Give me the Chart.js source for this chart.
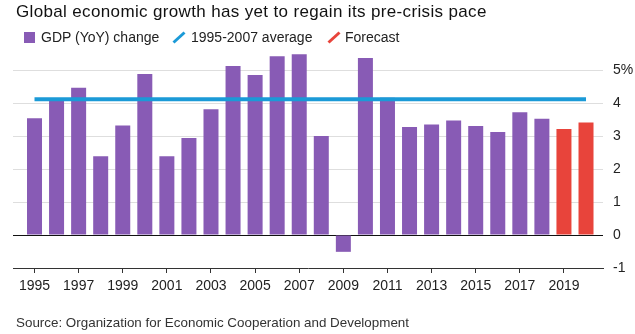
<!DOCTYPE html>
<html>
<head>
<meta charset="utf-8">
<script src="https://cdn.jsdelivr.net/npm/chart.js@4"></script>
<style>
  html, body { margin: 0; padding: 0; background: #fff; }
  body { width: 635px; height: 334px; position: relative; overflow: hidden;
         font-family: 'Liberation Sans', Arial, Helvetica, sans-serif; }
  #chart { position: absolute; left: 0; top: 0; }
  .txt { position: absolute; white-space: nowrap; line-height: 1; }
  #title { left: 16px; top: 3px; font-size: 17px; color: #111; letter-spacing: 0.35px; }
  .legend { top: 30px; font-size: 14px; color: #222; }
  #source { left: 16px; top: 316px; font-size: 13.4px; color: #333; }
  .swatch { position: absolute; left: 24px; top: 32px; width: 11px; height: 11px; }
  .slash { position: absolute; top: 31px; }
</style>
</head>
<body>
<canvas id="chart" width="635" height="334"></canvas>
<div id="title" class="txt">Global economic growth has yet to regain its pre-crisis pace</div>
<div class="swatch" id="swGdp"></div>
<div class="txt legend" style="left:41px">GDP (YoY) change</div>
<svg class="slash" style="left:172px" width="14" height="13"><line id="slAvg" x1="1.5" y1="11.5" x2="12.5" y2="1.5" stroke-width="3"/></svg>
<div class="txt legend" style="left:191px">1995-2007 average</div>
<svg class="slash" style="left:327px" width="14" height="13"><line id="slFc" x1="1.5" y1="11.5" x2="12.5" y2="1.5" stroke-width="3"/></svg>
<div class="txt legend" style="left:345px">Forecast</div>
<div id="source" class="txt">Source: Organization for Economic Cooperation and Development</div>

<script>
// Annual world GDP growth, % year over year
const years = [1995, 1996, 1997, 1998, 1999, 2000, 2001, 2002, 2003, 2004, 2005, 2006, 2007,
               2008, 2009, 2010, 2011, 2012, 2013, 2014, 2015, 2016, 2017, 2018, 2019, 2020];
const gdpChange = [3.54, 4.15, 4.46, 2.39, 3.32, 4.88, 2.39, 2.94, 3.81, 5.12, 4.85, 5.42, 5.48,
                   3.00, -0.51, 5.36, 4.16, 3.27, 3.35, 3.47, 3.30, 3.12, 3.72, 3.52, 3.21, 3.41];
const forecastYears = [2019, 2020];

// Average growth over 1995-2007, drawn across the full period
const averageGrowth = 4.11;
const averageSpan = [1995, 2020];

const xTickYears = [1995, 1997, 1999, 2001, 2003, 2005, 2007, 2009, 2011, 2013, 2015, 2017, 2019];
const yTickValues = [-1, 0, 1, 2, 3, 4, 5];

const PURPLE = '#885bb5';
const BLUE = '#1b9ad7';
const RED = '#e8443b';
const FONT = "'Liberation Sans', Arial, Helvetica, sans-serif";

document.getElementById('swGdp').style.background = PURPLE;
document.getElementById('slAvg').setAttribute('stroke', BLUE);
document.getElementById('slFc').setAttribute('stroke', RED);

const actualPoints = [];
const forecastPoints = [];
years.forEach((yr, i) => {
  const pt = { x: yr, y: gdpChange[i] };
  if (forecastYears.includes(yr)) forecastPoints.push(pt); else actualPoints.push(pt);
});

new Chart(document.getElementById('chart'), {
  type: 'bar',
  data: {
    datasets: [
      {
        type: 'line',
        label: '1995-2007 average',
        data: averageSpan.map(yr => ({ x: yr, y: averageGrowth })),
        borderColor: BLUE,
        borderWidth: 4,
        borderCapStyle: 'butt',
        pointRadius: 0,
        fill: false,
        order: 0,
        clip: false
      },
      {
        label: 'GDP (YoY) change',
        data: actualPoints,
        backgroundColor: PURPLE,
        grouped: false,
        barPercentage: 0.68,
        categoryPercentage: 1,
        order: 1,
        clip: false
      },
      {
        label: 'Forecast',
        data: forecastPoints,
        backgroundColor: RED,
        grouped: false,
        barPercentage: 0.68,
        categoryPercentage: 1,
        order: 1,
        clip: false
      }
    ]
  },
  options: {
    responsive: false,
    animation: false,
    layout: { padding: { left: 13, top: 70, right: 0, bottom: 0 } },
    plugins: { legend: { display: false }, tooltip: { enabled: false } },
    scales: {
      x: {
        type: 'linear',
        offset: false,
        min: 1994.025,
        max: 2020.77,
        afterBuildTicks: s => { s.ticks = xTickYears.map(v => ({ value: v })); },
        afterFit: s => { s.height = 66; },
        ticks: {
          callback: v => String(v),
          autoSkip: false,
          maxRotation: 0,
          padding: 5,
          color: '#222',
          font: { family: FONT, size: 14 }
        },
        grid: { display: true, offset: false, drawOnChartArea: false, drawTicks: true, tickLength: 5, color: '#333' },
        border: { display: true, color: '#333', width: 1 }
      },
      y: {
        position: 'right',
        min: -1,
        max: 5,
        afterBuildTicks: s => { s.ticks = yTickValues.map(v => ({ value: v })); },
        afterFit: s => { s.width = 32; },
        ticks: {
          callback: v => (v === 5 ? '5%' : String(v)),
          padding: 10,
          color: '#222',
          font: { family: FONT, size: 14 }
        },
        grid: {
          drawTicks: false,
          color: ctx => (ctx.tick && ctx.tick.value === 0 ? '#111'
                        : ctx.tick && ctx.tick.value === -1 ? 'rgba(0,0,0,0)' : '#dedede'),
          lineWidth: 1
        },
        border: { display: false }
      }
    }
  }
});
</script>
</body>
</html>
